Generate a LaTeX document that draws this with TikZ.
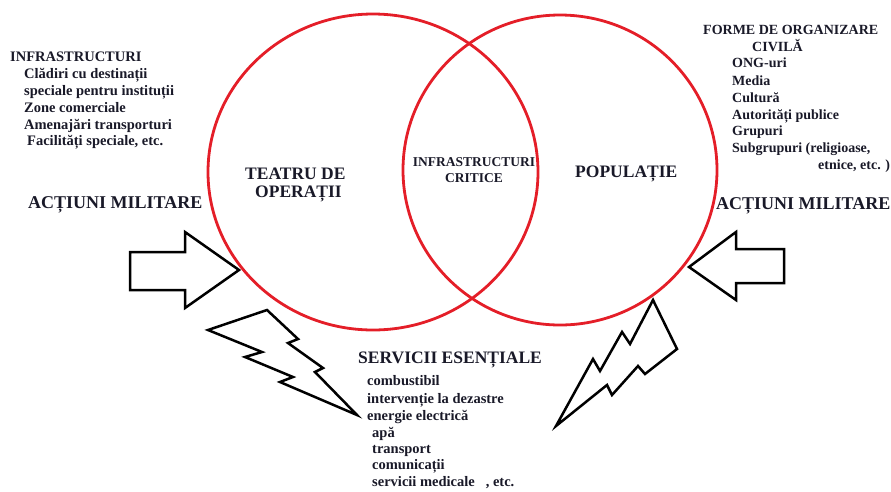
\documentclass[tikz,border=0pt]{standalone}
\usepackage{fontspec}
\setmainfont{Liberation Serif}
\definecolor{vred}{RGB}{228,30,40}
\definecolor{ink}{RGB}{25,25,40}
\begin{document}
\begin{tikzpicture}[x=1pt,y=-1pt,
  txt/.style={anchor=west,inner sep=0pt,text=ink,text height=9pt,text depth=3pt,
    font=\bfseries\fontsize{14}{16}\selectfont},
  txtb/.style={txt,font=\bfseries\fontsize{14.5}{16}\selectfont},
  big/.style={anchor=west,inner sep=0pt,text=ink,text height=11pt,text depth=3pt,
    font=\bfseries\fontsize{17.5}{20}\selectfont},
  bigb/.style={big,font=\bfseries\fontsize{18}{20}\selectfont},
  small/.style={anchor=center,inner sep=0pt,text=ink,text height=9pt,text depth=3pt,
    font=\bfseries\fontsize{13.5}{15}\selectfont},
  ring/.style={draw=vred,line width=2.8pt},
  shapeline/.style={draw=black,line width=2.5pt,line join=miter,fill=white}
]
\useasboundingbox (0,0) rectangle (891,491);

% circles
\draw[ring] (373,172) ellipse [x radius=165pt, y radius=158pt];
\draw[ring] (560,170) ellipse [x radius=157pt, y radius=155pt];

% block arrows
\draw[shapeline] (130,252) -- (185,252) -- (185,232) -- (239,270) -- (185,308) -- (185,290) -- (130,290) -- cycle;
\draw[shapeline] (689,267) -- (736,232) -- (736,249) -- (784,249) -- (784,283) -- (736,283) -- (736,300) -- cycle;

% lightning bolts
\draw[shapeline] (267,310) -- (298,339) -- (288,343) -- (323,368) -- (315,372) -- (357,415)
  -- (280,382) -- (293,377) -- (245,357) -- (262,352) -- (208,330) -- cycle;
\draw[shapeline] (653,300) -- (677,349) -- (645,374) -- (638,366) -- (612,395) -- (607,385)
  -- (556,426) -- (593,359) -- (600,371) -- (622,332) -- (630,344) -- cycle;

% left infrastructure block
\node[txtb] (inf) at (10,58) {INFRASTRUCTURI};
\node[txtb] (inf1) at (24,75) {Clădiri cu destinații};
\node[txtb] (inf2) at (24,92) {speciale pentru instituții};
\node[txtb] (inf3) at (24,109) {Zone comerciale};
\node[txtb] (inf4) at (24,126) {Amenajări transporturi};
\node[txtb] (inf5) at (27,142) {Facilități speciale, etc.};

% right civil block
\node[txt] (civ) at (703,31) {FORME DE ORGANIZARE};
\node[txt] (civa) at (752,48) {CIVILĂ};
\node[txt] (civ1) at (732,64) {ONG-uri};
\node[txt] (civ2) at (732,82) {Media};
\node[txt] (civ3) at (732,99) {Cultură};
\node[txt] (civ4) at (732,116) {Autorități publice};
\node[txt] (civ5) at (732,132) {Grupuri};
\node[txt] (civ6) at (732,149) {Subgrupuri (religioase,};
\node[txt] (civ7) at (818,166) {etnice, etc. )};

% circle labels
\node[big] (teatru) at (245,175) {TEATRU DE};
\node[big] (oper) at (255,193) {OPERAȚII};
\node[small] (ic1) at (474,163) {INFRASTRUCTURI};
\node[small] (ic2) at (474,179) {CRITICE};
\node[big] (pop) at (575,173) {POPULAȚIE};

% military actions
\node[bigb] (actl) at (28,204) {ACȚIUNI MILITARE};
\node[bigb] (actr) at (716,205) {ACȚIUNI MILITARE};

% essential services
\node[big] (serv) at (358,359) {SERVICII ESENȚIALE};
\node[txtb] (s1) at (367,382) {combustibil};
\node[txtb] (s2) at (367,400) {intervenție la dezastre};
\node[txtb] (s3) at (367,417) {energie electrică};
\node[txtb] (s4) at (372,434) {apă};
\node[txtb] (s5) at (372,450) {transport};
\node[txtb] (s6) at (372,466) {comunicații};
\node[txtb] (s7) at (372,483) {servicii medicale\ \ \ , etc.};
\end{tikzpicture}
\end{document}
